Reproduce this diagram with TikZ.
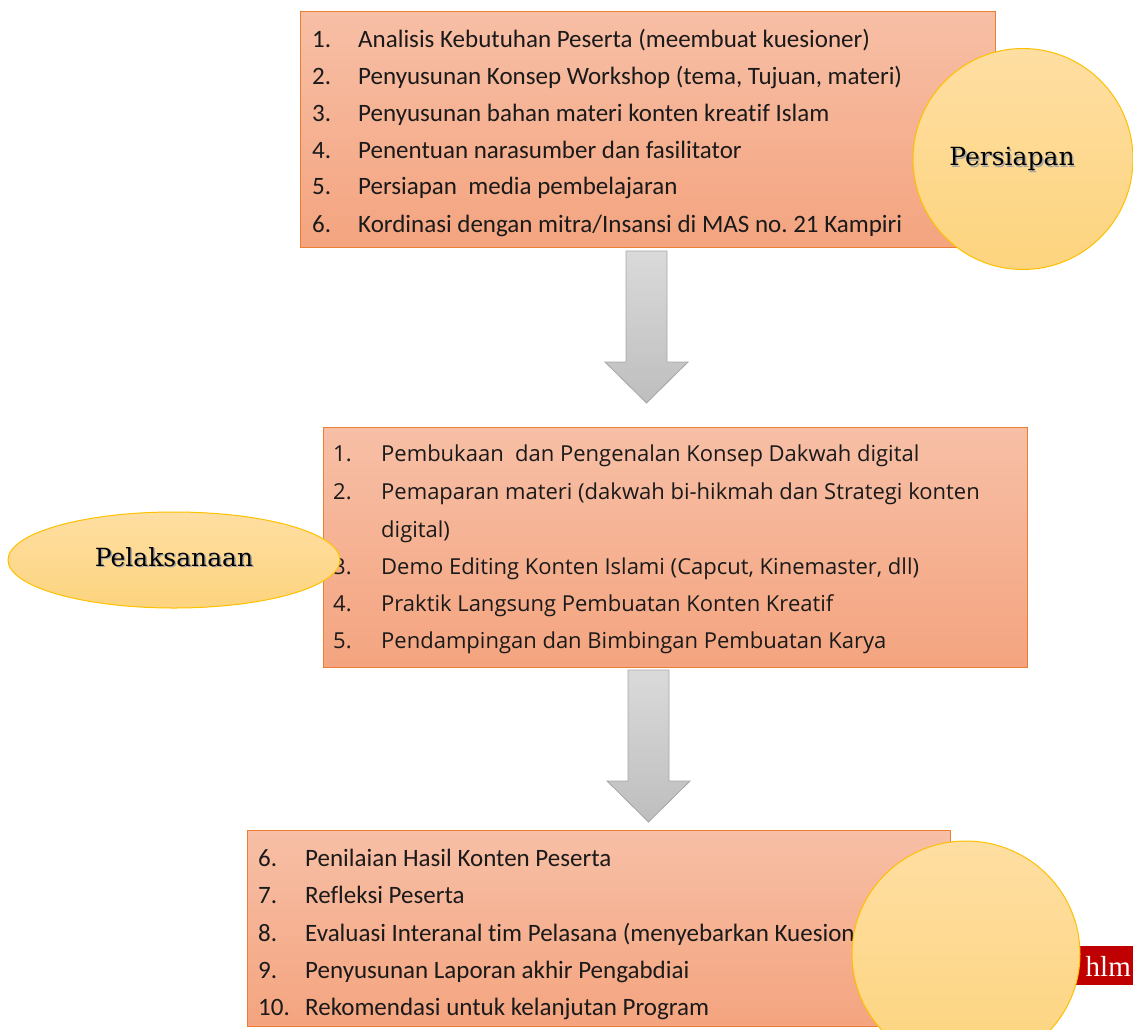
\documentclass[tikz,border=0pt]{standalone}
\usepackage{fontspec}
\setmainfont{Carlito}
\newfontfamily\listfont[Ligatures={NoCommon}]{Carlito}
\newfontfamily\listfontb{Open Sans}
\newfontfamily\titlefont{DejaVu Serif}
\newfontfamily\hlmfont{Liberation Serif}
\usetikzlibrary{shapes.geometric}
\frenchspacing
\definecolor{boxtop}{HTML}{F7BFA6}
\definecolor{boxbot}{HTML}{F4A47F}
\definecolor{boxline}{HTML}{ED7D31}
\definecolor{elltop}{HTML}{FEDEA2}
\definecolor{ellbot}{HTML}{FDD47E}
\definecolor{ellline}{HTML}{FFC000}
\definecolor{arrtop}{HTML}{DADADA}
\definecolor{arrbot}{HTML}{BEBEBE}
\definecolor{arrline}{HTML}{A6A6A6}
\definecolor{hlmred}{HTML}{C00000}
\definecolor{txt}{HTML}{1A1A1A}
\begin{document}
\begin{tikzpicture}[x=1pt,y=-1pt,
  box/.style={draw=boxline, line width=1pt, top color=boxtop, bottom color=boxbot, anchor=north west, inner sep=0pt},
  ell/.style={ellipse, draw=ellline, line width=1pt, top color=elltop, bottom color=ellbot, inner sep=0pt},
  blockarrow/.style={draw=arrline, line width=0.8pt, top color=arrtop, bottom color=arrbot},
  itemA/.style={anchor=base west, inner sep=0pt, text=txt, font=\listfont\fontsize{25}{30}\selectfont},
  itemB/.style={anchor=base west, inner sep=0pt, text=txt, font=\listfontb\fontsize{22}{26}\selectfont},
  title/.style={inner sep=0pt, text=black, font=\titlefont\fontsize{25}{30}\selectfont},
  tshadow/.style={inner sep=0pt, text=black!35, font=\titlefont\fontsize{25}{30}\selectfont}
]
\useasboundingbox (0,0) rectangle (1133,1029);
\clip (0,0) rectangle (1133,1029);

% ---------- Box 1 ----------
\node[box, minimum width=695pt, minimum height=236pt] (b1) at (300,11) {};
\node[itemA] (a1n) at (312,47) {1.};
\node[itemA] (a1t) at (358,47) {Analisis Kebutuhan Peserta (meembuat kuesioner)};
\node[itemA] (a2n) at (312,84) {2.};
\node[itemA] (a2t) at (358,84) {Penyusunan Konsep Workshop (tema, Tujuan, materi)};
\node[itemA] (a3n) at (312,121) {3.};
\node[itemA] (a3t) at (358,121) {Penyusunan bahan materi konten kreatif Islam};
\node[itemA] (a4n) at (312,158) {4.};
\node[itemA] (a4t) at (358,158) {Penentuan narasumber dan fasilitator};
\node[itemA] (a5n) at (312,194) {5.};
\node[itemA] (a5t) at (358,194) {Persiapan\ \ media pembelajaran};
\node[itemA] (a6n) at (312,232) {6.};
\node[itemA] (a6t) at (358,232) {Kordinasi dengan mitra/Insansi di MAS no. 21 Kampiri};
\node[ell, minimum width=220pt, minimum height=221pt] (e1) at (1023,159) {};
\node[tshadow] (p1s) at (1013.5,160.5) {Persiapan};
\node[title] (p1) at (1012,159) {Persiapan};

% ---------- Arrow 1 ----------
\draw[blockarrow] (626,251) -- (667,251) -- (667,362) -- (688,362) -- (646.5,403)
  -- (605,362) -- (626,362) -- cycle;

% ---------- Box 2 ----------
\node[box, minimum width=704pt, minimum height=240pt] (b2) at (323,427) {};
\node[itemB] (c1n) at (333,461) {1.};
\node[itemB] (c1t) at (381,461) {Pembukaan\ \ dan Pengenalan Konsep Dakwah digital};
\node[itemB] (c2n) at (333,499) {2.};
\node[itemB] (c2t) at (381,499) {Pemaparan materi (dakwah bi-hikmah dan Strategi konten};
\node[itemB] (c2u) at (381,537) {digital)};
\node[itemB] (c3n) at (333,574) {3.};
\node[itemB] (c3t) at (381,574) {Demo Editing Konten Islami (Capcut, Kinemaster, dll)};
\node[itemB] (c4n) at (333,611) {4.};
\node[itemB] (c4t) at (381,611) {Praktik Langsung Pembuatan Konten Kreatif};
\node[itemB] (c5n) at (333,648) {5.};
\node[itemB] (c5t) at (381,648) {Pendampingan dan Bimbingan Pembuatan Karya};
\node[ell, minimum width=332pt, minimum height=96pt] (e2) at (174,560) {};
\node[tshadow] (p2s) at (175.5,558.5) {Pelaksanaan};
\node[title] (p2) at (174,557) {Pelaksanaan};

% ---------- Arrow 2 ----------
\draw[blockarrow] (628,670) -- (669,670) -- (669,781) -- (690,781) -- (648.5,822)
  -- (607,781) -- (628,781) -- cycle;

% ---------- Box 3 ----------
\node[box, minimum width=703pt, minimum height=196pt] (b3) at (247,830) {};
\begin{scope}
\clip (247,830) rectangle (950,1019);
\node[itemA] (d1n) at (258,866) {6.};
\node[itemA] (d1t) at (305,866) {Penilaian Hasil Konten Peserta};
\node[itemA] (d2n) at (258,903) {7.};
\node[itemA] (d2t) at (305,903) {Refleksi Peserta};
\node[itemA] (d3n) at (258,941) {8.};
\node[itemA] (d3t) at (305,941) {Evaluasi Interanal tim Pelasana (menyebarkan Kuesioner)};
\node[itemA] (d4n) at (258,978) {9.};
\node[itemA] (d4t) at (305,978) {Penyusunan Laporan akhir Pengabdiai};
\node[itemA] (d5n) at (258,1015) {10.};
\node[itemA] (d5t) at (305,1015) {Rekomendasi untuk kelanjutan Program};
\end{scope}
\node[fill=hlmred, anchor=north west, minimum width=60pt, minimum height=39pt, inner sep=0pt] (red) at (1075,946) {};
\node[anchor=base east, inner sep=0pt, text=white, font=\hlmfont\fontsize{29}{32}\selectfont] (hlm) at (1131,976) {hlm};
\node[ell, minimum width=228pt, minimum height=226pt] (e3) at (966,954) {};

\end{tikzpicture}
\end{document}
